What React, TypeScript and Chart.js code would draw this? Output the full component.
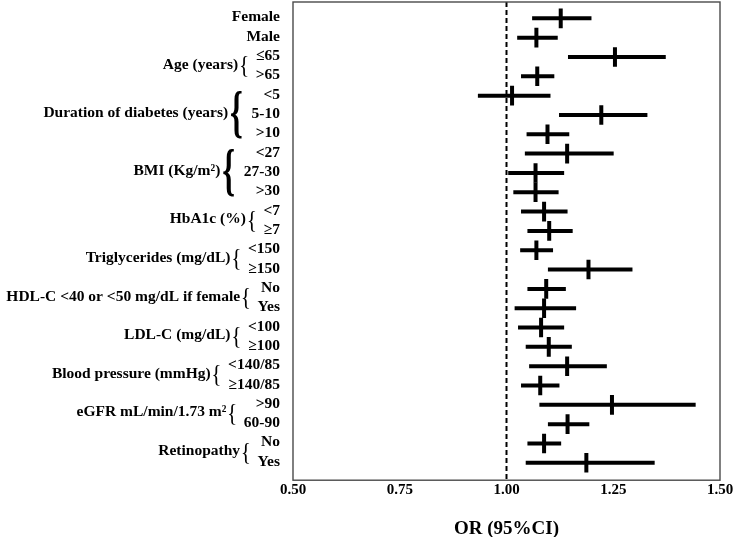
import React, { useEffect, useRef } from 'react';
import { Chart, registerables } from 'chart.js';

Chart.register(...registerables);

// ---- data ----
const rowLabels = ['Female', 'Male', '≤65', '>65', '<5', '5-10', '>10', '<27', '27-30', '>30', '<7', '≥7', '<150', '≥150', 'No', 'Yes', '<100', '≥100', '<140/85', '≥140/85', '>90', '60-90', 'No', 'Yes'];
const orValues = [1.127, 1.070, 1.254, 1.072, 1.013, 1.222, 1.096, 1.142, 1.068, 1.068, 1.088, 1.100, 1.070, 1.192, 1.093, 1.088, 1.081, 1.099, 1.142, 1.079, 1.247, 1.143, 1.088, 1.187];
const ciLower = [1.060, 1.025, 1.144, 1.034, 0.933, 1.123, 1.047, 1.043, 1.004, 1.016, 1.034, 1.049, 1.032, 1.097, 1.049, 1.019, 1.027, 1.045, 1.053, 1.034, 1.077, 1.097, 1.049, 1.045];
const ciUpper = [1.199, 1.120, 1.373, 1.112, 1.103, 1.330, 1.147, 1.251, 1.135, 1.122, 1.143, 1.155, 1.109, 1.295, 1.139, 1.163, 1.135, 1.153, 1.235, 1.124, 1.443, 1.194, 1.128, 1.347];
const groupNames = ['Age (years)', 'Duration of diabetes (years)', 'BMI (Kg/m²)', 'HbA1c (%)', 'Triglycerides (mg/dL)', 'HDL-C <40 or <50 mg/dL if female', 'LDL-C (mg/dL)', 'Blood pressure (mmHg)', 'eGFR mL/min/1.73 m²', 'Retinopathy'];
const groupFirstRow = [3, 5, 8, 11, 13, 15, 17, 19, 21, 23];
const groupRowCount = [2, 3, 3, 2, 2, 2, 2, 2, 2, 2];
const xTicks = [0.5, 0.75, 1.0, 1.25, 1.5];
const referenceOR = 1.0;
const axisTitle = 'OR (95%CI)';

// ---- layout ----
const Y_MIN = 0.155;
const Y_MAX = 24.9;
const LABEL_RIGHT = 280;
const SERIF = '"Liberation Serif", "Times New Roman", serif';

const labelsPlugin = {
  id: 'forestLabels',
  afterDraw(chart: any) {
    const { ctx, chartArea } = chart;
    const ys = chart.scales.y;
    ctx.save();
    // plot frame
    ctx.strokeStyle = '#4a4a4a';
    ctx.lineWidth = 1.4;
    ctx.strokeRect(chartArea.left, chartArea.top, chartArea.right - chartArea.left, chartArea.bottom - chartArea.top);

    ctx.fillStyle = '#000';
    ctx.font = `bold 15.5px ${SERIF}`;
    ctx.textAlign = 'right';
    ctx.textBaseline = 'middle';
    const dy = -1;
    rowLabels.forEach((lab, i) => {
      ctx.fillText(lab, LABEL_RIGHT, ys.getPixelForValue(i + 1) + dy);
    });

    groupNames.forEach((name, g) => {
      const first = groupFirstRow[g];
      const n = groupRowCount[g];
      ctx.font = `bold 15.5px ${SERIF}`;
      let subLeft = Infinity;
      for (let r = first; r < first + n; r++) {
        const w = ctx.measureText(rowLabels[r - 1]).width;
        subLeft = Math.min(subLeft, LABEL_RIGHT - w);
      }
      const yTop = ys.getPixelForValue(first);
      const yBot = ys.getPixelForValue(first + n - 1);
      const mid = (yTop + yBot) / 2;
      const span = yBot - yTop;
      const big = n >= 3;
      const H = big ? span + 8 : span + 1;
      const W = big ? 11 : 7;
      const gap = big ? 10 : 8;
      const braceRight = subLeft - gap;
      const weight = big ? 'bold ' : '';
      ctx.textAlign = 'left';
      ctx.textBaseline = 'alphabetic';
      ctx.font = `${weight}100px ${SERIF}`;
      const m100 = ctx.measureText('{');
      const h100 = m100.actualBoundingBoxAscent + m100.actualBoundingBoxDescent;
      const fs = (H / h100) * 100;
      ctx.font = `${weight}${fs}px ${SERIF}`;
      const m = ctx.measureText('{');
      const ink = m.actualBoundingBoxRight + m.actualBoundingBoxLeft;
      const sx = Math.min(1, W / ink);
      const baseY = mid + (m.actualBoundingBoxAscent - m.actualBoundingBoxDescent) / 2;
      const inkW = ink * sx;
      const braceLeft = braceRight - inkW;
      ctx.save();
      ctx.translate(braceLeft, baseY);
      ctx.scale(sx, 1);
      ctx.fillText('{', m.actualBoundingBoxLeft, 0);
      ctx.restore();
      ctx.font = `bold 15.5px ${SERIF}`;
      ctx.textAlign = 'right';
      ctx.textBaseline = 'middle';
      ctx.fillText(name, braceLeft - 2.5, mid - 2);
    });
    ctx.restore();
  },
};

export default function App() {
  const ref = useRef<HTMLCanvasElement | null>(null);

  useEffect(() => {
    if (!ref.current) return;
    const ciSets = rowLabels.map((_, i) => ({
      type: 'line' as const,
      data: [
        { x: ciLower[i], y: i + 1 },
        { x: ciUpper[i], y: i + 1 },
      ],
      borderColor: '#000',
      borderWidth: 4,
      borderCapStyle: 'butt' as const,
      pointRadius: 0,
      showLine: true,
      fill: false,
    }));
    const chart = new Chart(ref.current, {
      type: 'scatter',
      data: {
        datasets: [
          {
            type: 'scatter' as const,
            data: orValues.map((v, i) => ({ x: v, y: i + 1 })),
            pointStyle: 'line',
            rotation: 90,
            pointRadius: 9.8,
            pointHoverRadius: 9.8,
            borderWidth: 4,
            borderColor: '#000',
            backgroundColor: '#000',
          } as any,
          ...ciSets,
          {
            type: 'line' as const,
            data: [
              { x: referenceOR, y: Y_MIN },
              { x: referenceOR, y: Y_MAX },
            ],
            borderColor: '#000',
            borderWidth: 2,
            borderDash: [5, 3],
            pointRadius: 0,
            fill: false,
          },
        ],
      },
      options: {
        animation: false,
        responsive: true,
        maintainAspectRatio: false,
        layout: { autoPadding: false, padding: { left: 293, right: 15, top: 2, bottom: 0 } },
        plugins: { legend: { display: false }, tooltip: { enabled: false } },
        scales: {
          x: {
            type: 'linear',
            min: 0.5,
            max: 1.5,
            grid: { display: false, drawTicks: false },
            border: { display: false },
            afterBuildTicks: (s: any) => {
              s.ticks = xTicks.map((v) => ({ value: v }));
            },
            ticks: {
              padding: 1,
              color: '#000',
              font: { family: SERIF, size: 15, weight: 'bold' },
              callback: (v: any) => Number(v).toFixed(2),
            },
            title: {
              display: true,
              text: axisTitle,
              color: '#000',
              font: { family: SERIF, size: 19, weight: 'bold' },
              padding: { top: 17, bottom: -3 },
            },
          },
          y: {
            type: 'linear',
            min: Y_MIN,
            max: Y_MAX,
            reverse: true,
            display: false,
          },
        },
      },
      plugins: [labelsPlugin],
    } as any);
    return () => chart.destroy();
  }, []);

  return (
    <div style={{ position: 'absolute', left: 0, top: 0, width: 735, height: 537, background: '#fff' }}>
      <canvas ref={ref} />
    </div>
  );
}
